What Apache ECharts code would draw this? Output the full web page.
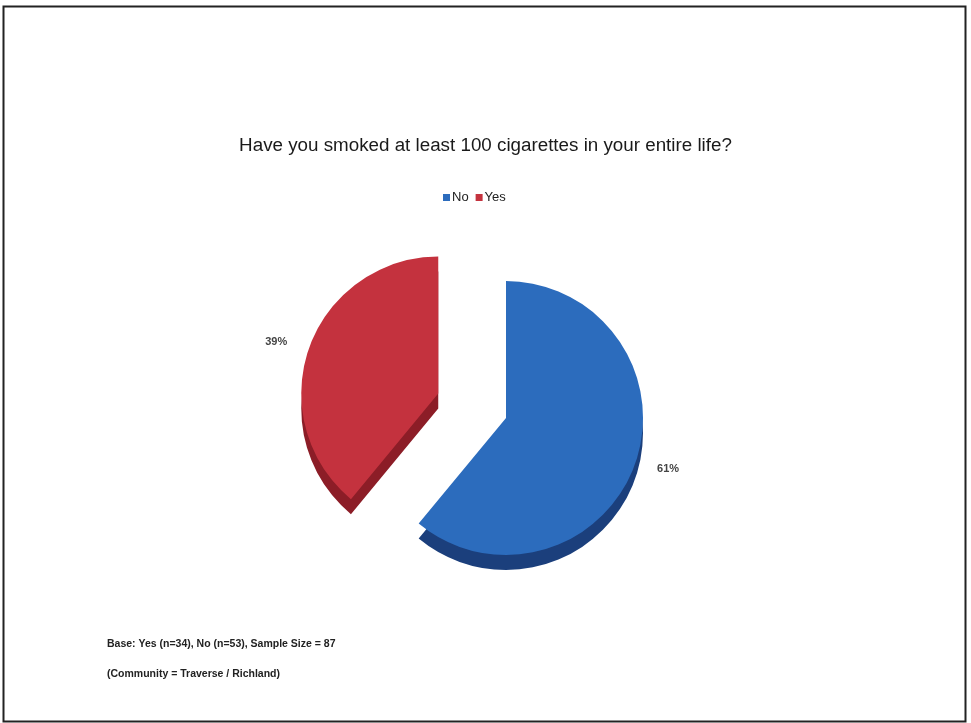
<!DOCTYPE html>
<html>
<head>
<meta charset="utf-8">
<script src="https://cdn.jsdelivr.net/npm/echarts@6/dist/echarts.min.js"></script>
<style>
html,body{margin:0;padding:0;background:#fff;}
#chart{width:971px;height:723px;}
</style>
</head>
<body>
<div id="chart"></div>
<script>
var titleText = 'Have you smoked at least 100 cigarettes in your entire life?';
var categories = ['No', 'Yes'];
var percents = [61, 39];
var topColors = ['#2c6cbd', '#c4323e'];
var sideColors = ['#1b3f7c', '#8c1d27'];
var footnotes = ['Base: Yes (n=34), No (n=53), Sample Size = 87', '(Community = Traverse / Richland)'];

var topData = categories.map(function (c, i) {
  return { name: c, value: percents[i], selected: c === 'Yes', itemStyle: { color: topColors[i] } };
});
var sideData = categories.map(function (c, i) {
  return { name: c, value: percents[i], selected: c === 'Yes', itemStyle: { color: sideColors[i] } };
});

var chart = echarts.init(document.getElementById('chart'));
chart.setOption({
  backgroundColor: '#ffffff',
  animation: false,
  title: {
    text: titleText,
    left: 'center',
    top: 131,
    textStyle: { fontFamily: 'Liberation Sans, Arial, sans-serif', fontSize: 18.8, fontWeight: 'normal', color: '#1a1a1a' }
  },
  legend: {
    data: categories.map(function (c, i) { return { name: c, itemStyle: { color: topColors[i] } }; }),
    left: 438,
    top: 186,
    icon: 'rect',
    itemWidth: 7,
    itemHeight: 7,
    itemGap: 7,
    selectedMode: false,
    textStyle: { fontFamily: 'Liberation Sans, Arial, sans-serif', fontSize: 13, color: '#222', padding: [0, 0, 0, -3] }
  },
  graphic: [
    { type: 'rect', shape: { x: 3.5, y: 6.5, width: 962, height: 715 }, style: { fill: 'none', stroke: '#222', lineWidth: 2 }, silent: true },
    { type: 'text', left: 107, top: 639, style: { text: footnotes[0], font: 'bold 10.5px Liberation Sans, Arial, sans-serif', fill: '#222' } },
    { type: 'text', left: 107, top: 669, style: { text: footnotes[1], font: 'bold 10.5px Liberation Sans, Arial, sans-serif', fill: '#222' } }
  ],
  series: [
    {
      name: 'top',
      type: 'pie',
      z: 3,
      center: [506, 418],
      radius: [0, 137],
      startAngle: 90,
      clockwise: true,
      selectedMode: 'multiple',
      selectedOffset: 72,
      silent: true,
      data: topData,
      label: {
        show: true,
        position: 'outside',
        formatter: '{c}%',
        fontFamily: 'Liberation Sans, Arial, sans-serif',
        fontSize: 11,
        fontWeight: 'bold',
        color: '#444'
      },
      labelLine: { show: false, length: 14, length2: 4 },
      emphasis: { disabled: true }
    },
    {
      name: 'side',
      type: 'pie',
      z: 1,
      center: [506, 433],
      radius: [0, 137],
      startAngle: 90,
      clockwise: true,
      selectedMode: 'multiple',
      selectedOffset: 72,
      silent: true,
      data: sideData,
      label: { show: false },
      labelLine: { show: false },
      emphasis: { disabled: true }
    }
  ]
});
</script>
</body>
</html>
